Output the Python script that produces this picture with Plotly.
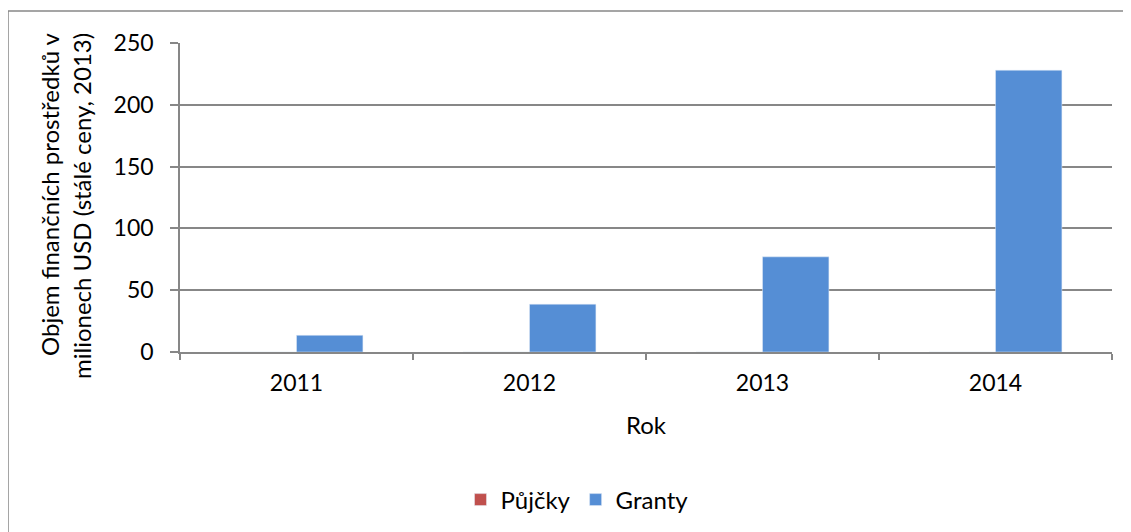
import plotly.graph_objects as go

years = ["2011", "2012", "2013", "2014"]
pujcky = [0, 0, 0, 0]
granty = [13.5, 38.7, 77, 228]
y_ticks = [0, 50, 100, 150, 200, 250]
y_title_lines = ["Objem finančních prostředků v", "milionech USD (stálé ceny, 2013)"]

FONT = "Lato"
GRID = "#878787"

OFF = 8  # default page body margin
W, H = 1131 - OFF, 532 - OFF
L, R, T, B = 180 - OFF, 19, 43 - OFF, 180
pw, ph = W - L - R, H - T - B

def px(x):
    return (x - OFF - L) / pw

def py(y):
    return (H - B - (y - OFF)) / ph

fig = go.Figure()
fig.add_trace(go.Bar(name="Půjčky", x=years, y=pujcky, marker_color="#C0504D"))
fig.add_trace(go.Bar(name="Granty", x=years, y=granty, marker_color="#558ED5"))

title_pos = [(49, 194), (81, 206)]
annotations = [
    dict(text=t, xref="paper", yref="paper", x=px(cx), y=py(cy),
         xanchor="center", yanchor="middle", textangle=-90, showarrow=False,
         font=dict(size=24, family=FONT, color="#000000"))
    for t, (cx, cy) in zip(y_title_lines, title_pos)
]

fig.update_layout(
    width=W, height=H,
    margin=dict(l=L, r=R, t=T, b=B, autoexpand=False),
    plot_bgcolor="white", paper_bgcolor="white",
    barmode="group", bargap=0.43, bargroupgap=0,
    font=dict(family=FONT, size=23, color="#000000"),
    showlegend=True,
    legend=dict(orientation="h", x=px(577), y=py(500), xanchor="center", yanchor="middle",
                font=dict(size=24), itemwidth=30, traceorder="normal"),
    xaxis=dict(
        type="category", showline=True, linecolor=GRID, linewidth=1.5,
        ticks="outside", tickson="boundaries", ticklen=6, tickcolor=GRID, tickwidth=1.5,
        showgrid=False, tickfont=dict(size=23), ticklabelstandoff=10,
        title=dict(text="Rok", standoff=22, font=dict(size=24)),
    ),
    yaxis=dict(
        range=[0, 250], tickvals=y_ticks, showline=True, linecolor=GRID, linewidth=1.5,
        ticks="outside", ticklen=8, tickcolor=GRID, tickwidth=1.5,
        showgrid=True, gridcolor=GRID, gridwidth=1.5, zeroline=False,
        tickfont=dict(size=23), ticklabelstandoff=12,
    ),
    annotations=annotations,
    shapes=[
        dict(type="line", xref="paper", yref="paper", x0=px(8), x1=px(1140), y0=py(11), y1=py(11),
             line=dict(color=GRID, width=1.5)),
        dict(type="line", xref="paper", yref="paper", x0=px(8), x1=px(8), y0=py(11), y1=py(540),
             line=dict(color=GRID, width=1.5)),
    ],
)

fig.write_html("out.html")
